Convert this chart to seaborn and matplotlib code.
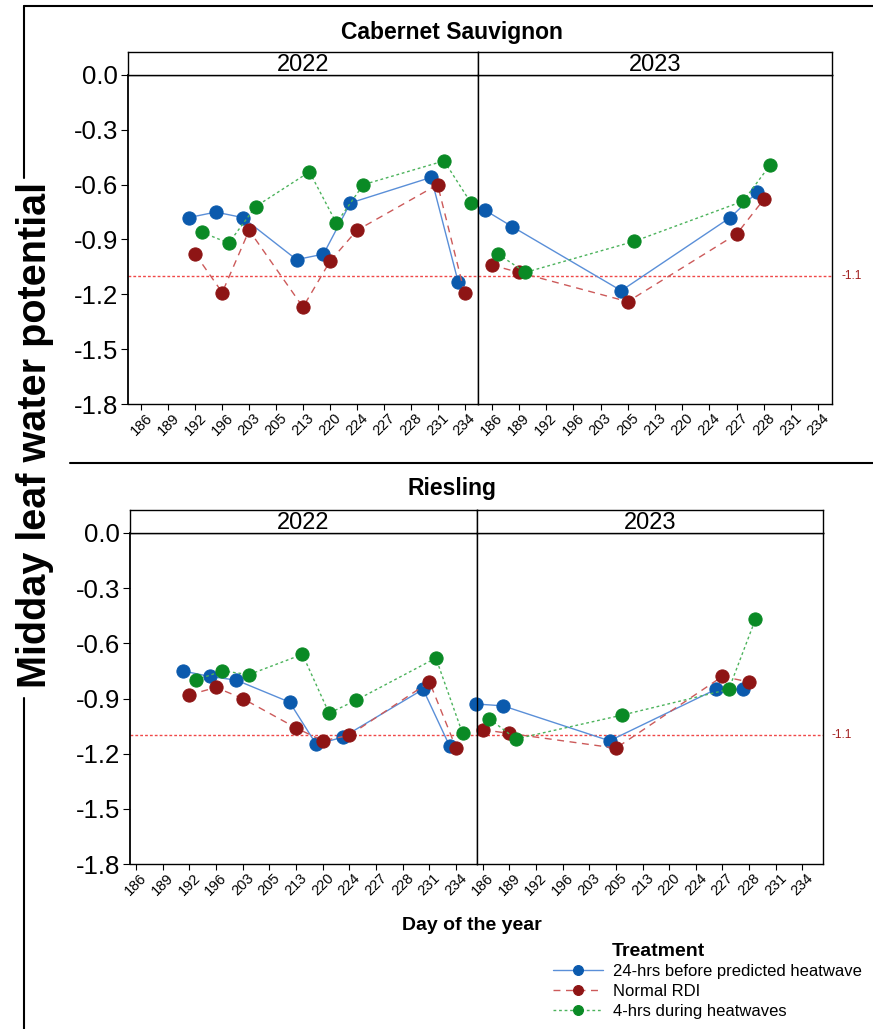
import numpy as np
import pandas as pd
import matplotlib
matplotlib.use('Agg')
import matplotlib.pyplot as plt
from matplotlib.lines import Line2D
import seaborn as sns

# x categories (union of sampling days of both years)
days = ['186', '189', '192', '196', '203', '205', '213', '220', '224', '227', '228', '231', '234']
days_2022 = ['192', '196', '203', '213', '220', '224', '231', '234']
days_2023 = ['186', '189', '205', '227', '228']

treatments = ['24-hrs before predicted heatwave', 'Normal RDI', '4-hrs during heatwaves']

# Cabernet Sauvignon
cs22_24h = [-0.78, -0.75, -0.78, -1.01, -0.98, -0.70, -0.56, -1.13]
cs22_rdi = [-0.98, -1.19, -0.85, -1.27, -1.02, -0.85, -0.60, -1.19]
cs22_4h = [-0.86, -0.92, -0.72, -0.53, -0.81, -0.60, -0.47, -0.70]
cs23_24h = [-0.74, -0.83, -1.18, -0.78, -0.64]
cs23_rdi = [-1.04, -1.08, -1.24, -0.87, -0.68]
cs23_4h = [-0.98, -1.08, -0.91, -0.69, -0.49]

# Riesling
ri22_24h = [-0.75, -0.78, -0.80, -0.92, -1.15, -1.11, -0.85, -1.16]
ri22_rdi = [-0.88, -0.84, -0.90, -1.06, -1.13, -1.10, -0.81, -1.17]
ri22_4h = [-0.80, -0.75, -0.77, -0.66, -0.98, -0.91, -0.68, -1.09]
ri23_24h = [-0.93, -0.94, -1.13, -0.85, -0.85]
ri23_rdi = [-1.07, -1.09, -1.17, -0.78, -0.81]
ri23_4h = [-1.01, -1.12, -0.99, -0.85, -0.47]

threshold = -1.1

rows = []
def add(cultivar, year, day_list, series):
    for trt, vals in zip(treatments, series):
        for d, v in zip(day_list, vals):
            rows.append({'cultivar': cultivar, 'year': year, 'day': d, 'treatment': trt, 'psi': v})

add('Cabernet Sauvignon', '2022', days_2022, [cs22_24h, cs22_rdi, cs22_4h])
add('Cabernet Sauvignon', '2023', days_2023, [cs23_24h, cs23_rdi, cs23_4h])
add('Riesling', '2022', days_2022, [ri22_24h, ri22_rdi, ri22_4h])
add('Riesling', '2023', days_2023, [ri23_24h, ri23_rdi, ri23_4h])
data = pd.DataFrame(rows)

marker_colors = {'24-hrs before predicted heatwave': '#0b5aad',
                 'Normal RDI': '#8e1515',
                 '4-hrs during heatwaves': '#0a8a25'}
line_colors = ['#5a8fd8', '#cc5a5a', '#4cb35c']

sns.set_style('white')
plt.rcParams['font.family'] = ['Liberation Sans', 'DejaVu Sans']
plt.rcParams['text.color'] = 'black'
plt.rcParams['xtick.color'] = 'black'
plt.rcParams['ytick.color'] = 'black'
plt.rcParams['axes.labelcolor'] = 'black'
narrow = ['Liberation Sans Narrow', 'Liberation Sans', 'DejaVu Sans']

W, H = 873, 1029
def box(l, t, r, b):
    return [l / W, 1 - b / H, (r - l) / W, (b - t) / H]

fig = plt.figure(figsize=(W / 100, H / 100), dpi=100)

panels = [
    dict(cultivar='Cabernet Sauvignon', left=128, mid=478, right=832, strip=52, top=75,
         bottom=404, xlim=(-0.5, 12.5), title_y=32, ref_x=842),
    dict(cultivar='Riesling', left=130, mid=477, right=823, strip=510, top=533,
         bottom=864, xlim=(-0.22, 12.78), title_y=489, ref_x=832),
]

legend_handles = None
for p in panels:
    for i, year in enumerate(['2022', '2023']):
        l, r = (p['left'], p['mid']) if i == 0 else (p['mid'], p['right'])
        ax = fig.add_axes(box(l, p['top'], r, p['bottom']))
        sub = data[(data['cultivar'] == p['cultivar']) & (data['year'] == year)]
        sns.pointplot(data=sub, x='day', y='psi', hue='treatment', order=days,
                      hue_order=treatments, palette=marker_colors, markers='o',
                      linestyles=['-', (0, (5, 4)), (0, (2, 2))], dodge=0.48, errorbar=None,
                      markersize=9.5, linewidth=1, legend=False, clip_on=False, ax=ax)
        for ln, lc, trt in zip(ax.lines[:3], line_colors, treatments):
            # join the points across days without measurements
            x, y = ln.get_data()
            x = np.asarray(x, dtype=float)
            y = np.asarray(y, dtype=float)
            keep = ~np.isnan(y)
            ln.set_data(x[keep], y[keep])
            ln.set_color(lc)
            ln.set_markerfacecolor(marker_colors[trt])
            ln.set_markeredgecolor(marker_colors[trt])
        if legend_handles is None:
            legend_handles = list(ax.lines[:3])
        ax.axhline(threshold, color='#f04848', ls=(0, (2, 1.5)), lw=1, zorder=0)
        ax.set_xlim(*p['xlim'])
        ax.set_ylim(-1.8, 0.0)
        ax.set_xlabel('')
        ax.set_ylabel('')
        ax.set_xticks(range(len(days)))
        ax.set_xticklabels(days, rotation=45, ha='center')
        ax.tick_params(axis='x', direction='out', length=4, width=0.8, labelsize=10.5,
                       pad=1, bottom=True)
        yt = [0.0, -0.3, -0.6, -0.9, -1.2, -1.5, -1.8]
        if i == 0:
            ax.set_yticks(yt)
            ax.set_yticklabels([f'{v:.1f}' for v in yt])
            ax.tick_params(axis='y', direction='out', length=5, width=0.8, labelsize=18.5,
                           pad=2, left=True)
        else:
            ax.set_yticks([])
            frac = 1 + (p['ref_x'] - r) / (r - l)
            ax.text(frac, threshold, '-1.1', color='#a01c1c', fontsize=8.5,
                    va='center', ha='left', transform=ax.get_yaxis_transform())
        for s in ax.spines.values():
            s.set_color('black')
            s.set_linewidth(1)
        ax.spines['left'].set_linewidth(1.3 if i == 0 else 1)

        sax = fig.add_axes(box(l, p['strip'], r, p['top']))
        sax.set_xticks([])
        sax.set_yticks([])
        sax.set_facecolor('white')
        for s in sax.spines.values():
            s.set_color('black')
            s.set_linewidth(1)
        sax.text(0.5, 0.45, year, ha='center', va='center', fontsize=17, family=narrow,
                 transform=sax.transAxes)
    fig.text(452 / W, 1 - p['title_y'] / H, p['cultivar'], ha='center', va='center',
             fontsize=16.5, fontweight='bold')

# outer frame lines of the composed figure
def fline(x1, y1, x2, y2, lw=1.5):
    fig.add_artist(Line2D([x1 / W, x2 / W], [1 - y1 / H, 1 - y2 / H],
                          transform=fig.transFigure, color='black', lw=lw))

fline(24, 6, 873, 6)
fline(24, 6, 24, 178)
fline(24, 698, 24, 1029)
fline(70, 463, 873, 463)

fig.text(35 / W, 1 - 435 / H, 'Midday leaf water potential', rotation=90,
         ha='center', va='center', fontsize=28.5, fontweight='bold')
fig.text(472 / W, 1 - 926 / H, 'Day of the year', ha='center', va='center',
         fontsize=14, fontweight='bold')

fig.text(612 / W, 1 - 951 / H, 'Treatment', ha='left', va='center',
         fontsize=14, fontweight='bold')
leg = fig.legend(legend_handles, treatments, loc='upper left',
                 bbox_to_anchor=(553 / W, 1 - 964 / H), frameon=False, fontsize=12,
                 handlelength=3.0, borderaxespad=0, borderpad=0, labelspacing=0.3,
                 handletextpad=0.6, markerscale=0.75)

fig.savefig('out.png', dpi=100)
